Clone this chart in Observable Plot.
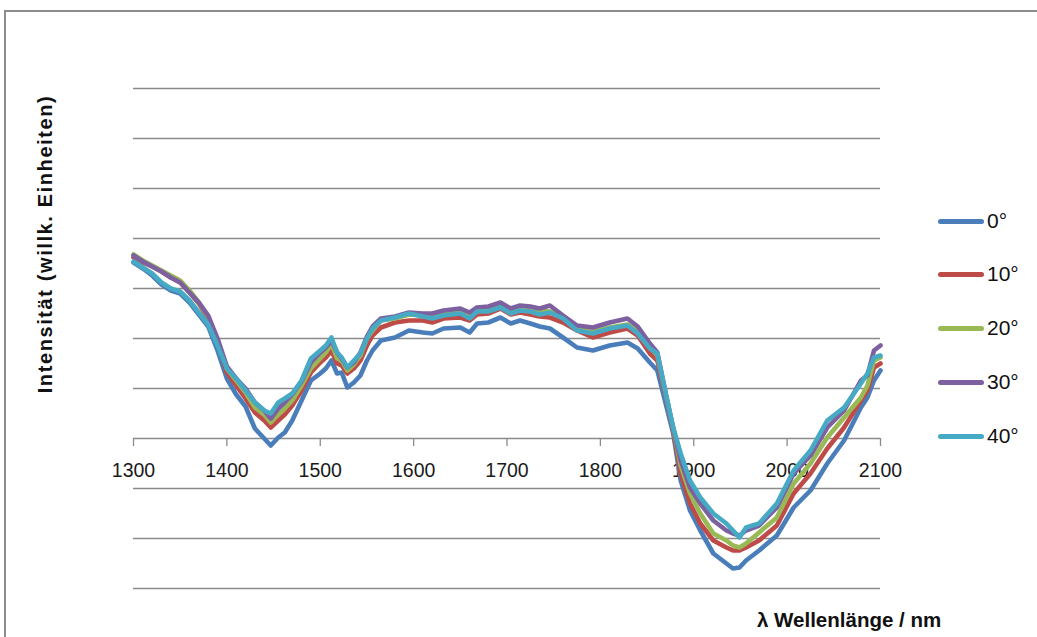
<!DOCTYPE html>
<html><head><meta charset="utf-8">
<script src="https://cdn.jsdelivr.net/npm/d3@7"></script>
<script src="https://cdn.jsdelivr.net/npm/@observablehq/plot@0.6"></script>
<style>
html,body{margin:0;padding:0;background:#fff;overflow:hidden;width:1037px;height:637px}
#wrap{position:relative;width:1037px;height:637px;overflow:hidden}
#frame{position:absolute;left:4px;top:10px;width:1100px;height:700px;border-left:2px solid #8c8c8c;border-top:2px solid #8c8c8c}
#chart{position:absolute;left:0;top:0}
.ytitle{position:absolute;left:45px;top:244px;transform:translate(-50%,-50%) rotate(-90deg);white-space:nowrap;font-family:"Liberation Sans",sans-serif;font-weight:bold;font-size:20px;letter-spacing:1.6px;color:#111}
.xtitle{position:absolute;left:757px;top:608px;white-space:nowrap;font-family:"Liberation Sans",sans-serif;font-weight:bold;font-size:20.5px;color:#111}
.leg{position:absolute;left:938px;font-family:"Liberation Sans",sans-serif;font-size:21px;color:#111;display:flex;align-items:center;transform:translateY(-50%)}
.leg span.sw{display:inline-block;width:46px;height:5px;border-radius:3px;margin-right:3px}
</style>
</head><body>
<div id="wrap">
<div id="frame"></div>
<div id="chart"></div>
<div class="ytitle">Intensität (willk. Einheiten)</div>
<div class="xtitle">λ Wellenlänge / nm</div>
</div>
<script>
const wavelength = [1300,1310,1320,1330,1340,1350,1360,1370,1380,1390,
1400,1410,1420,1430,1440,1447,1455,1462,1470,1480,
1490,1500,1506,1512,1518,1523,1529,1536,1543,1550,
1556,1565,1580,1595,1610,1620,1632,1650,1660,1668,
1680,1693,1704,1714,1725,1735,1746,1760,1775,1792,
1810,1829,1840,1853,1861,1871,1878,1886,1896,1907,
1921,1935,1942,1949,1956,1970,1989,2007,2025,2043,
2061,2079,2086,2093,2100];

const deg0 = [35.2,34.0,32.6,30.8,29.6,29.0,27.2,24.8,22.4,17.6,
12.0,8.8,6.4,2.0,0.0,-1.4,0.2,1.2,3.6,7.6,
11.6,13.0,14.0,15.6,13.0,13.2,10.2,11.2,12.6,15.6,
17.6,19.6,20.2,21.6,21.2,21.0,22.0,22.2,21.2,23.0,
23.2,24.2,23.0,23.6,23.0,22.4,22.0,20.2,18.2,17.6,
18.6,19.2,18.0,15.2,13.6,6.2,1.0,-8.4,-14.4,-18.4,
-23.0,-25.0,-26.0,-25.8,-24.4,-22.4,-19.4,-13.8,-10.4,-5.0,
-0.4,6.2,8.2,11.6,13.6];

const deg10 = [36.2,35.2,34.4,33.4,32.2,31.2,29.2,27.0,24.0,19.6,
13.2,10.6,8.0,5.2,3.6,2.2,3.6,4.8,6.6,9.6,
13.2,15.2,16.2,17.6,15.0,14.6,13.0,14.0,15.6,18.6,
20.6,22.2,23.2,23.6,23.6,23.2,24.0,24.2,23.6,24.8,
25.0,26.0,24.8,25.2,24.8,24.4,24.2,23.2,21.6,20.2,
21.2,22.0,20.6,17.0,15.6,7.6,1.6,-7.0,-13.0,-17.0,
-20.4,-21.8,-22.4,-22.4,-21.8,-20.4,-17.4,-11.0,-7.0,-2.0,
2.2,7.6,9.6,14.2,15.0];

const deg20 = [36.8,35.6,34.6,33.6,32.6,31.6,29.6,27.2,24.4,19.6,
14.0,11.6,9.2,6.2,4.8,3.2,4.8,6.0,7.6,10.6,
14.0,16.0,17.2,19.0,16.0,15.6,13.6,14.8,16.6,20.0,
21.6,23.6,24.0,24.8,24.6,24.4,25.2,25.6,24.8,26.2,
26.2,27.0,25.8,26.2,26.0,25.6,25.4,24.4,22.4,21.4,
22.2,22.8,21.4,18.4,16.6,8.0,2.0,-5.4,-11.0,-15.0,
-19.0,-20.4,-21.4,-21.8,-21.0,-18.8,-15.8,-9.0,-5.0,0.2,
4.2,8.2,10.6,15.6,16.2];

const deg30 = [36.6,35.4,34.4,33.4,32.2,31.2,29.2,27.2,24.6,20.0,
14.4,12.0,10.0,7.2,5.6,4.0,6.0,7.2,8.8,11.4,
15.2,17.2,18.2,19.6,17.2,16.0,14.2,15.2,17.2,20.4,
22.4,24.0,24.4,25.2,25.0,25.0,25.6,26.0,25.2,26.2,
26.4,27.2,26.0,26.6,26.4,26.0,26.6,24.6,22.6,22.2,
23.2,24.0,22.4,19.0,17.2,8.0,2.0,-4.4,-9.8,-13.0,
-16.4,-18.4,-19.0,-19.4,-18.4,-17.4,-13.8,-7.0,-3.4,2.2,
5.6,11.6,12.6,17.6,18.6];

const deg40 = [35.4,34.2,33.0,31.2,30.0,29.4,27.6,25.2,22.8,18.6,
14.0,12.0,9.6,7.2,5.6,5.0,7.2,8.0,9.0,11.6,
16.0,17.6,18.6,20.2,17.2,16.2,14.2,15.6,17.0,20.0,
22.0,23.6,24.2,25.0,24.4,24.0,24.6,25.0,24.0,25.4,
25.4,26.2,25.0,25.6,25.4,24.8,25.2,24.0,21.6,21.0,
22.0,22.6,21.0,18.0,17.0,8.2,2.2,-3.0,-8.4,-11.8,
-15.0,-17.0,-18.4,-19.8,-17.8,-17.0,-13.0,-6.4,-2.4,3.6,
6.2,11.0,13.0,16.2,16.6];

const seriesNames = ["0°","10°","20°","30°","40°"];
const seriesValues = [deg0, deg10, deg20, deg30, deg40];
const seriesColors = ["#4A7EBB","#BE4B48","#98B954","#7D60A0","#46AAC5"];
const xTicks = [1300,1400,1500,1600,1700,1800,1900,2000,2100];
const yGrid = [-30,-20,-10,10,20,30,40,50,60,70];

const rows = [];
seriesValues.forEach((vals, i) => vals.forEach((v, j) => rows.push({series: seriesNames[i], wl: wavelength[j], val: v})));

const chart = Plot.plot({
  width: 1037, height: 637,
  marginLeft: 133, marginRight: 157, marginTop: 88, marginBottom: 49,
  x: {domain: [1300, 2100], axis: null},
  y: {domain: [-30, 70], axis: null},
  color: {domain: seriesNames, range: seriesColors},
  style: {background: "transparent", fontFamily: "Liberation Sans, sans-serif"},
  marks: [
    Plot.ruleY(yGrid, {stroke: "#8a8a8a", strokeWidth: 1.3}),
    Plot.ruleY([0], {stroke: "#8a8a8a", strokeWidth: 1.5}),
    Plot.ruleX(xTicks, {x: d => d, y1: 0, y2: -1.6, stroke: "#8a8a8a", strokeWidth: 1.3}),
    Plot.text(xTicks, {x: d => d, y: 0, dy: 32, text: d => String(d), fontSize: 19.5, fill: "#1a1a1a"}),
    Plot.line(rows, {x: "wl", y: "val", stroke: "series", z: "series", strokeWidth: 4.6, strokeLinejoin: "round", strokeLinecap: "round"})
  ]
});
document.getElementById("chart").appendChild(chart);

const legendY = [221, 274, 328, 382, 436];
const wrap = document.getElementById("wrap");
seriesNames.forEach((name, i) => {
  const d = document.createElement("div");
  d.className = "leg";
  d.style.top = legendY[i] + "px";
  d.innerHTML = `<span class="sw" style="background:${seriesColors[i]}"></span>${name}`;
  wrap.appendChild(d);
});
</script>
</body></html>
